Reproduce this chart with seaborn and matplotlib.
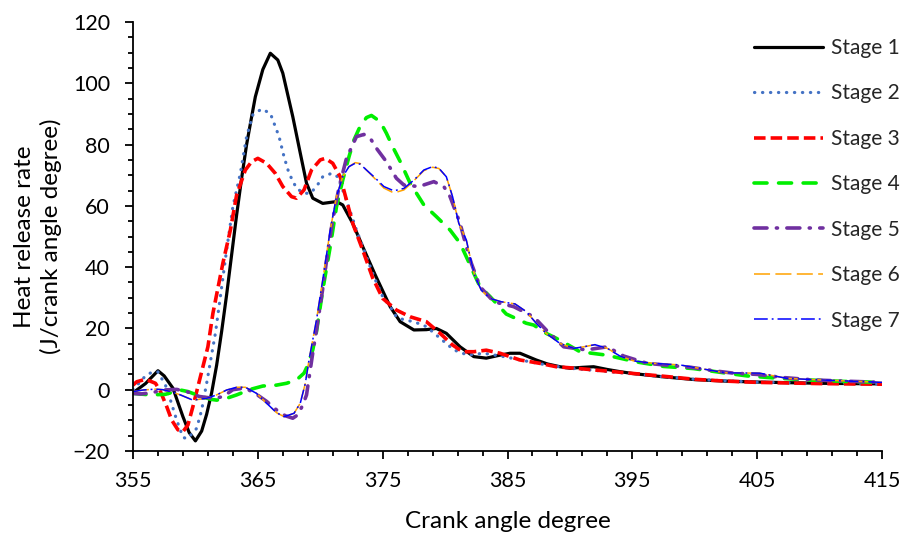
import numpy as np
import pandas as pd
import matplotlib
matplotlib.use("Agg")
import matplotlib.pyplot as plt
from matplotlib.ticker import MultipleLocator
import seaborn as sns

# ---- data (crank angle, heat release rate) ----
x1 = [355.0, 356.0, 357.0, 357.5, 358.2, 359.0, 359.5, 360.0, 360.5, 360.9, 361.3, 361.7,
      362.1, 362.5, 362.9, 363.3, 363.7, 364.1, 364.5, 364.8, 365.4, 366.0, 366.6, 367.0,
      367.8, 368.4, 368.9, 369.4, 370.2, 371.3, 371.8, 372.6, 373.4, 374.4, 375.6, 376.4,
      377.5, 378.5, 379.3, 380.1, 381.2, 382.3, 383.3, 384.3, 385.2, 386.0, 387.3, 388.2,
      389.2, 390.0, 391.0, 391.9, 393.0, 394.0, 395.0, 397.5, 400.0, 402.5, 405.0, 407.5,
      410.0, 412.5, 415.0]
y1 = [-1.0, 2.0, 6.2, 4.5, 0.5, -8.8, -14.0, -16.7, -13.5, -8.0, -1.0, 8.0,
      19.0, 31.0, 44.0, 57.0, 69.0, 80.0, 89.0, 95.6, 104.5, 109.8, 107.6, 103.3,
      89.1, 77.2, 67.4, 62.5, 60.8, 61.4, 60.3, 54.3, 46.7, 37.5, 27.1, 22.2,
      19.5, 19.6, 20.0, 18.4, 14.0, 10.8, 10.3, 11.2, 11.9, 11.9, 9.7, 8.4,
      7.5, 7.0, 7.3, 7.5, 6.6, 5.9, 5.3, 4.2, 3.3, 2.8, 2.5, 2.3,
      2.1, 2.0, 1.9]

x2 = [355.0, 356.0, 356.5, 357.0, 357.6, 358.0, 358.5, 359.0, 359.3, 359.7, 360.1, 360.5,
      360.9, 361.3, 361.6, 362.0, 362.5, 363.0, 363.6, 364.1, 364.6, 365.3, 366.0, 366.7,
      367.1, 367.5, 368.1, 368.7, 369.2, 369.7, 370.2, 370.9, 371.4, 372.1, 372.9, 373.4,
      374.3, 375.0, 375.6, 376.1, 376.7, 377.5, 378.5, 379.6, 380.7, 381.8, 383.1, 384.7,
      386.8, 388.1, 390.0, 392.0, 395.0, 397.5, 400.0, 402.5, 405.0, 407.5, 410.0, 412.5, 415.0]
y2 = [0.0, 4.5, 5.7, 5.8, 1.5, -3.4, -9.9, -15.5, -16.0, -14.5, -12.6, -6.6,
      2.1, 11.5, 18.4, 30.4, 45.6, 59.7, 70.6, 82.6, 89.7, 91.6, 90.2, 82.6,
      76.0, 70.6, 65.7, 64.1, 64.1, 66.3, 69.5, 70.6, 69.5, 61.9, 52.1, 46.7,
      36.9, 30.4, 27.1, 23.8, 22.8, 22.2, 20.6, 16.8, 13.0, 11.3, 11.9, 10.8,
      9.1, 8.1, 7.0, 6.3, 5.2, 4.2, 3.4, 2.9, 2.5, 2.3, 2.1, 2.0, 1.9]

x3 = [355.0, 355.3, 356.0, 356.8, 357.2, 357.7, 358.1, 358.6, 359.0, 359.4, 359.8, 360.2,
      360.6, 361.0, 361.4, 362.2, 362.8, 363.3, 364.0, 364.5, 365.0, 365.7, 366.4, 367.0,
      367.7, 368.1, 368.7, 369.3, 370.0, 370.4, 371.0, 371.6, 372.1, 372.6, 373.4, 374.2,
      375.0, 376.1, 377.2, 378.5, 379.6, 380.6, 381.4, 382.3, 383.3, 384.4, 386.0, 387.6,
      388.9, 390.5, 392.1, 394.8, 397.5, 400.0, 402.5, 405.0, 407.5, 410.0, 412.5, 415.0]
y3 = [1.5, 2.6, 3.4, 2.1, -0.6, -5.5, -9.9, -13.1, -13.7, -11.5, -5.5, 1.0,
      7.5, 14.0, 24.9, 41.3, 52.1, 63.5, 71.7, 74.4, 75.5, 73.9, 70.6, 66.3,
      63.0, 62.5, 65.2, 71.7, 75.0, 75.5, 73.9, 69.5, 61.9, 54.3, 45.6, 36.5,
      29.8, 26.0, 23.8, 22.2, 18.4, 14.6, 12.4, 12.4, 12.9, 11.9, 9.7, 8.6,
      7.5, 7.0, 6.4, 5.4, 4.4, 3.4, 2.8, 2.4, 2.2, 2.0, 1.9, 1.8]

x4 = [355.0, 356.4, 357.6, 358.8, 359.4, 360.3, 361.2, 361.7, 362.5, 363.3, 364.4, 365.4,
      366.5, 367.3, 368.1, 368.7, 369.0, 369.4, 369.7, 370.2, 370.8, 371.3, 371.8, 372.3,
      372.7, 373.2, 373.7, 374.1, 374.8, 375.3, 375.8, 376.4, 377.2, 378.3, 379.3, 380.4,
      381.2, 381.7, 382.3, 382.8, 383.6, 384.9, 386.5, 387.1, 388.1, 389.2, 390.8, 392.9,
      395.3, 397.5, 399.9, 402.0, 404.2, 406.5, 409.0, 412.0, 415.0]
y4 = [-1.2, -1.7, -1.5, -0.1, -0.6, -2.0, -3.1, -3.4, -2.8, -1.7, 0.1, 1.2,
      1.5, 2.1, 3.2, 5.4, 8.0, 13.0, 19.0, 32.5, 46.7, 59.7, 68.4, 76.0,
      81.5, 86.0, 88.8, 89.5, 87.5, 83.7, 79.3, 74.5, 67.4, 60.3, 56.5, 52.1,
      47.8, 43.4, 38.0, 33.6, 30.4, 24.7, 21.7, 21.1, 18.4, 16.2, 12.4, 11.3,
      9.1, 7.6, 6.9, 5.7, 4.5, 3.8, 3.2, 2.7, 2.4]

x5 = [355.0, 355.6, 356.5, 357.4, 358.5, 359.3, 360.3, 361.4, 362.2, 363.0, 364.0, 365.0,
      365.7, 366.5, 367.2, 367.8, 368.2, 368.6, 368.9, 369.4, 369.7, 370.2, 370.6, 371.0,
      371.5, 372.1, 372.9, 373.5, 374.0, 374.5, 375.3, 376.1, 376.7, 377.9, 379.1, 379.9,
      380.4, 381.2, 381.7, 382.1, 382.8, 383.9, 385.5, 387.1, 388.1, 389.5, 391.3, 393.0,
      394.3, 396.2, 399.7, 401.5, 403.1, 405.0, 407.0, 409.5, 412.0, 415.0]
y5 = [-1.2, -1.4, -1.0, -0.1, 0.1, -0.6, -2.2, -2.8, -2.3, 0.0, 0.6, -1.8,
      -3.8, -6.6, -8.5, -9.3, -8.2, -5.0, -1.7, 12.0, 19.5, 33.0, 45.0, 55.4,
      66.0, 75.5, 82.6, 83.3, 82.1, 78.8, 74.4, 69.0, 66.8, 66.3, 67.9, 66.3,
      63.0, 54.3, 46.7, 41.3, 33.6, 28.7, 27.1, 23.8, 19.5, 14.0, 13.0, 14.0,
      11.0, 8.6, 7.3, 6.2, 5.4, 5.0, 4.0, 3.2, 2.8, 2.4]

x7 = [355.0, 355.8, 356.8, 357.4, 358.0, 358.8, 359.8, 360.9, 361.7, 362.5, 363.3, 364.0,
      364.9, 365.7, 366.5, 367.1, 367.9, 368.4, 368.8, 369.1, 369.7, 370.2, 370.8, 371.3,
      371.8, 372.3, 372.8, 373.2, 373.7, 374.3, 375.1, 375.9, 376.7, 377.5, 378.3, 379.0,
      379.5, 380.1, 380.6, 381.1, 381.7, 382.0, 382.4, 382.9, 383.6, 384.5, 385.6, 386.5,
      387.3, 388.1, 389.2, 390.3, 391.1, 392.0, 393.0, 394.0, 395.1, 396.7, 398.8, 400.9,
      402.5, 405.2, 407.4, 410.0, 412.5, 415.0]
y7 = [-0.6, -0.1, 0.2, 0.0, -0.6, -1.7, -3.4, -2.8, -1.7, -0.1, 0.8, 0.8,
      -1.2, -4.4, -7.5, -8.8, -7.7, -4.4, 2.0, 9.7, 22.8, 35.8, 52.1, 63.0,
      69.5, 72.8, 73.9, 73.6, 71.7, 69.5, 66.3, 64.9, 65.7, 68.4, 71.7, 72.8,
      72.3, 69.5, 63.0, 54.3, 48.9, 43.4, 36.9, 32.5, 29.8, 28.7, 28.0, 25.5,
      21.7, 18.4, 15.1, 13.5, 14.0, 14.7, 13.5, 11.0, 9.4, 8.6, 8.1, 6.6,
      5.5, 5.4, 3.7, 3.2, 2.8, 2.4]

x6 = list(x7)
y6 = [-0.6, -0.1, 0.2, 0.0, -0.6, -1.7, -3.4, -2.8, -1.7, -0.1, 0.8, 0.8,
      -1.2, -4.4, -7.5, -8.8, -7.7, -4.4, 2.0, 9.7, 22.8, 35.8, 52.1, 63.0,
      69.5, 72.8, 74.1, 73.8, 71.7, 69.2, 65.8, 64.2, 65.2, 68.2, 71.5, 72.6,
      72.2, 69.5, 63.0, 54.3, 48.9, 43.4, 36.9, 32.5, 29.8, 28.7, 28.0, 25.5,
      21.7, 18.4, 15.1, 13.5, 14.0, 14.7, 13.5, 11.0, 9.4, 8.6, 8.1, 6.6,
      5.5, 5.4, 3.7, 3.2, 2.8, 2.4]

labels = ["Stage 1", "Stage 2", "Stage 3", "Stage 4", "Stage 5", "Stage 6", "Stage 7"]
series = [(x1, y1), (x2, y2), (x3, y3), (x4, y4), (x5, y5), (x6, y6), (x7, y7)]

styles = [
    dict(color="#000000", lw=2.3, dashes=None, cap="round"),
    dict(color="#4472C4", lw=2.3, dashes=(0.1, 2.4), cap="round"),
    dict(color="#FF0000", lw=2.6, dashes=(3.2, 1.4), cap="butt"),
    dict(color="#00EE00", lw=2.6, dashes=(3.6, 3.2), cap="round"),
    dict(color="#7030A0", lw=2.6, dashes=(3.6, 2.6, 0.3, 2.6), cap="round"),
    dict(color="#FFA200", lw=1.1, dashes=(10.5, 3.5), cap="butt"),
    dict(color="#0000FF", lw=1.1, dashes=(9.0, 2.6, 1.2, 2.6), cap="butt"),
]

sns.set_theme(style="white")
plt.rcParams["font.family"] = ["Lato", "DejaVu Sans"]

fig = plt.figure(figsize=(9.05, 5.35), dpi=100)
ax = fig.add_axes([133 / 905, 1 - 451 / 535, 749 / 905, 429 / 535])

for lab, (xs, ys), st in zip(labels, series, styles):
    df = pd.DataFrame({"x": xs, "y": ys})
    sns.lineplot(data=df, x="x", y="y", ax=ax, color=st["color"], linewidth=st["lw"],
                 label=lab, errorbar=None)
    line = ax.lines[-1]
    if st["dashes"] is not None:
        line.set_dashes(st["dashes"])
    line.set_dash_capstyle(st["cap"])
    line.set_solid_capstyle("round")
    line.set_solid_joinstyle("round")
    line.set_dash_joinstyle("round")

ax.set_xlim(355, 415)
ax.set_ylim(-20, 120)
ax.xaxis.set_major_locator(MultipleLocator(10, offset=5))
ax.xaxis.set_minor_locator(MultipleLocator(2, offset=1))
ax.yaxis.set_major_locator(MultipleLocator(20))
ax.yaxis.set_minor_locator(MultipleLocator(5))

for s in ["top", "right"]:
    ax.spines[s].set_visible(False)
for s in ["left", "bottom"]:
    ax.spines[s].set_color("black")
    ax.spines[s].set_linewidth(1.3)

ax.tick_params(axis="both", which="major", direction="out", length=5.5, width=1.3,
               color="black", labelsize=15.5, labelcolor="black",
               bottom=True, left=True)
ax.tick_params(axis="both", which="minor", direction="out", length=3.6, width=1.3,
               color="black", bottom=True, left=True)
ax.tick_params(axis="x", which="major", pad=9)
ax.tick_params(axis="y", which="major", pad=11)

ax.set_xlabel("Crank angle degree", fontsize=17.5, color="black", labelpad=14)
ax.set_ylabel("Heat release rate\n(J/crank angle degree)", fontsize=17.5, color="black",
              labelpad=8, linespacing=1.25)

leg = ax.legend(loc="upper left", bbox_to_anchor=(754 / 905, 1 - 38 / 535),
                bbox_transform=fig.transFigure, frameon=False, fontsize=15,
                handlelength=3.3, handletextpad=0.4, labelspacing=1.22,
                borderpad=0, borderaxespad=0)

fig.savefig("out.png", dpi=100, facecolor="white")
